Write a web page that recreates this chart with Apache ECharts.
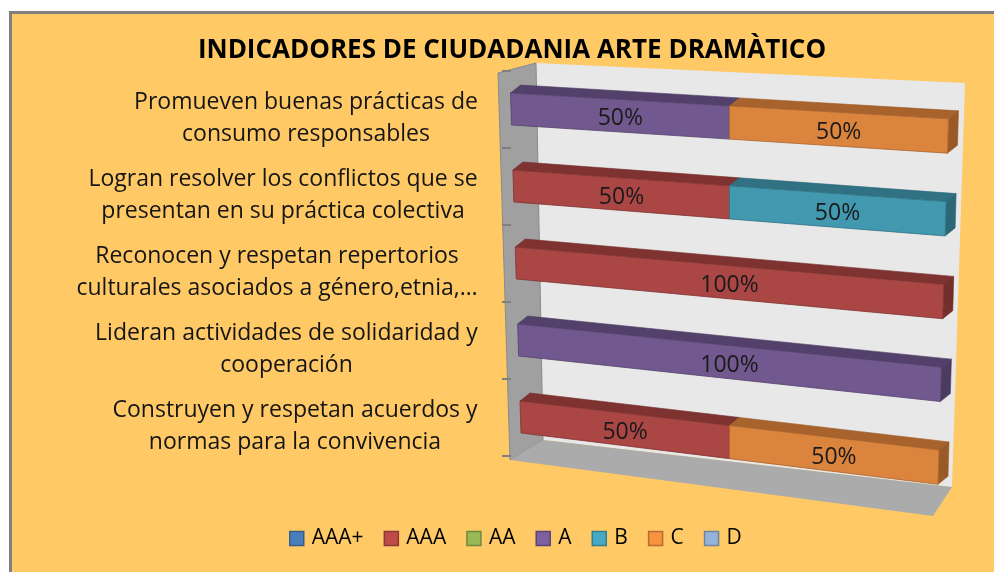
<!DOCTYPE html>
<html>
<head>
<meta charset="utf-8">
<script src="https://cdn.jsdelivr.net/npm/echarts@6/dist/echarts.min.js"></script>
<style>
  html, body { margin: 0; padding: 0; background: #ffffff; }
  #frame { position: absolute; left: 9px; top: 11px; right: 0; bottom: 0; background: #FFC965;
           border-left: 3px solid #808080; border-top: 3px solid #808080; }
  #chart { position: absolute; left: 0; top: 0; width: 994px; height: 572px; }
</style>
</head>
<body>
<div id="frame"></div>
<div id="chart"></div>
<script>
// ---- data ----
const categories = [
  'Promueven buenas prácticas de\nconsumo responsables',
  'Logran resolver los conflictos que se\npresentan en su práctica colectiva',
  'Reconocen y respetan repertorios\nculturales asociados a género,etnia,…',
  'Lideran actividades de solidaridad y\ncooperación',
  'Construyen y respetan acuerdos y\nnormas para la convivencia'
];
const seriesNames = ['AAA+', 'AAA', 'AA', 'A', 'B', 'C', 'D'];
const valAAAplus = [0, 0, 0, 0, 0];
const valAAA     = [0, 50, 100, 0, 50];
const valAA      = [0, 0, 0, 0, 0];
const valA       = [50, 0, 0, 100, 0];
const valB       = [0, 50, 0, 0, 0];
const valC       = [50, 0, 0, 0, 50];
const valD       = [0, 0, 0, 0, 0];
const seriesValues = [valAAAplus, valAAA, valAA, valA, valB, valC, valD];

// ---- styles ----
const frontColors  = ['#4572A7', '#AA4643', '#89A54E', '#71588F', '#4198AF', '#DB843D', '#80A0C8'];
const topColors    = ['#33557F', '#7F3331', '#667B3A', '#54416B', '#307284', '#A8632D', '#5F7896'];
const sideColors   = ['#2E4D73', '#742E2C', '#5D7035', '#4C3B61', '#2B6777', '#9A5A28', '#576D88'];
const legendFill   = ['#4A7EBB', '#BE4B48', '#98B954', '#7D60A0', '#46AAC5', '#F69240', '#95B3D7'];
const legendBorder = ['#385D8A', '#8C3836', '#71893F', '#5C4776', '#357D91', '#B66D31', '#6E85A0'];
const FONT = '"Open Sans", "Liberation Sans", sans-serif';

// per-label widths so every line is centred inside its own block
const ctx = document.createElement('canvas').getContext('2d');
ctx.font = '23px "Open Sans"';
const rich = {};
categories.forEach((c, i) => {
  const w = Math.max(...c.split('\n').map(l => ctx.measureText(l).width));
  rich['r' + i] = { width: Math.ceil(w) + 2, align: 'center', fontSize: 23, fontFamily: FONT,
                    lineHeight: 32, color: '#151515' };
});

// stacked segments
const totals = categories.map((_, ci) => seriesValues.reduce((s, arr) => s + arr[ci], 0));
const starts = categories.map(() => 0);
const segData = seriesValues.map(arr => arr.map((v, ci) => {
  const s = starts[ci];
  starts[ci] += v;
  return [s, s + v, ci, v, (s + v === totals[ci] && v > 0) ? 1 : 0];
}));

function renderItem(params, api) {
  const s = api.value(0), e = api.value(1), ci = api.value(2), v = api.value(3), last = api.value(4);
  if (!(v > 0)) return null;
  const si = params.seriesIndex;
  const XL = api.coord([0, 0])[0], XR = api.coord([100, 0])[0], Y0 = api.coord([0, 0])[1];
  const W = XR - XL, XC = (XL + XR) / 2;
  const yc = api.coord([s, ci])[1];
  const x0 = api.coord([s, ci])[0], x1 = api.coord([e, ci])[0];
  const band = api.size([0, 1])[1];
  const h = band * 0.415;
  // simple perspective
  const P = (x, y) => {
    const dx = x - XL;
    return [XC + (x - XC) * (1 - 0.000141 * (y - Y0)),
            Y0 + (y - Y0) * (1 + 0.075 * dx / W) + 0.0618 * dx];
  };
  const ox = 10, oy = -8;
  const ft0 = P(x0, yc - h / 2), ft1 = P(x1, yc - h / 2), fb1 = P(x1, yc + h / 2), fb0 = P(x0, yc + h / 2);
  const children = [];
  children.push({ type: 'polygon', shape: { points: [ft0, [ft0[0] + ox, ft0[1] + oy], [ft1[0] + ox, ft1[1] + oy], ft1] },
                  style: { fill: topColors[si], stroke: sideColors[si], lineWidth: 0.6 } });
  if (last) {
    children.push({ type: 'polygon', shape: { points: [ft1, [ft1[0] + ox, ft1[1] + oy], [fb1[0] + ox, fb1[1] + oy], fb1] },
                    style: { fill: sideColors[si], stroke: sideColors[si], lineWidth: 0.6 } });
  }
  children.push({ type: 'polygon', shape: { points: [ft0, ft1, fb1, fb0] },
                  style: { fill: frontColors[si], stroke: topColors[si], lineWidth: 0.8 } });
  const c = P((x0 + x1) / 2, yc + 3);
  children.push({ type: 'text', x: c[0], y: c[1],
                  style: { text: v + '%', fill: '#1a1a1a', font: '23px ' + FONT, align: 'center', verticalAlign: 'middle' } });
  return { type: 'group', children };
}

const chart = echarts.init(document.getElementById('chart'), null, { renderer: 'canvas' });
chart.setOption({
  backgroundColor: 'transparent',
  animation: false,
  title: {
    text: 'INDICADORES DE CIUDADANIA ARTE DRAMÀTICO',
    left: 507, top: 33, textAlign: 'center',
    textStyle: { fontFamily: FONT, fontWeight: 'bold', fontSize: 26, color: '#000000' }
  },
  legend: {
    left: 284, top: 523, itemWidth: 14, itemHeight: 14, itemGap: 20,
    textStyle: { fontFamily: FONT, fontSize: 21, color: '#000000', padding: [0, 0, 0, 3] },
    data: seriesNames.map((n, i) => ({ name: n, icon: 'rect',
      itemStyle: { color: legendFill[i], borderColor: legendBorder[i], borderWidth: 1.5 } }))
  },
  graphic: [
    { type: 'polygon', z: -10, shape: { points: [[536, 63], [965, 83], [952, 487], [543, 440]] },
      style: { fill: '#E8E8E8' } },
    { type: 'polygon', z: -10, shape: { points: [[498, 73], [536, 63], [543, 440], [510, 460]] },
      style: { fill: '#A0A0A0', stroke: '#8A8A8A', lineWidth: 1 } },
    { type: 'polygon', z: -10, shape: { points: [[510, 460], [543, 440], [952, 487], [933, 516]] },
      style: { fill: '#ABABAB' } }
  ],
  grid: { left: 511, right: 46, top: 70.5, bottom: 116.5, containLabel: false },
  xAxis: { type: 'value', min: 0, max: 100, show: false },
  yAxis: {
    type: 'category', inverse: true, data: categories, offset: 10,
    axisLine: { show: false },
    axisTick: { show: true, length: 9, lineStyle: { color: '#7F7F7F', width: 2 } },
    axisLabel: {
      margin: 22, align: 'right', padding: [18, 0, 0, 0],
      formatter: (val, idx) => val.split('\n').map(l => '{r' + idx + '|' + l + '}').join('\n'),
      rich
    }
  },
  series: seriesNames.map((n, i) => ({
    name: n, type: 'custom', renderItem, clip: false,
    itemStyle: { color: legendFill[i] },
    encode: { x: [0, 1], y: 2 },
    data: segData[i]
  }))
});
</script>
</body>
</html>
